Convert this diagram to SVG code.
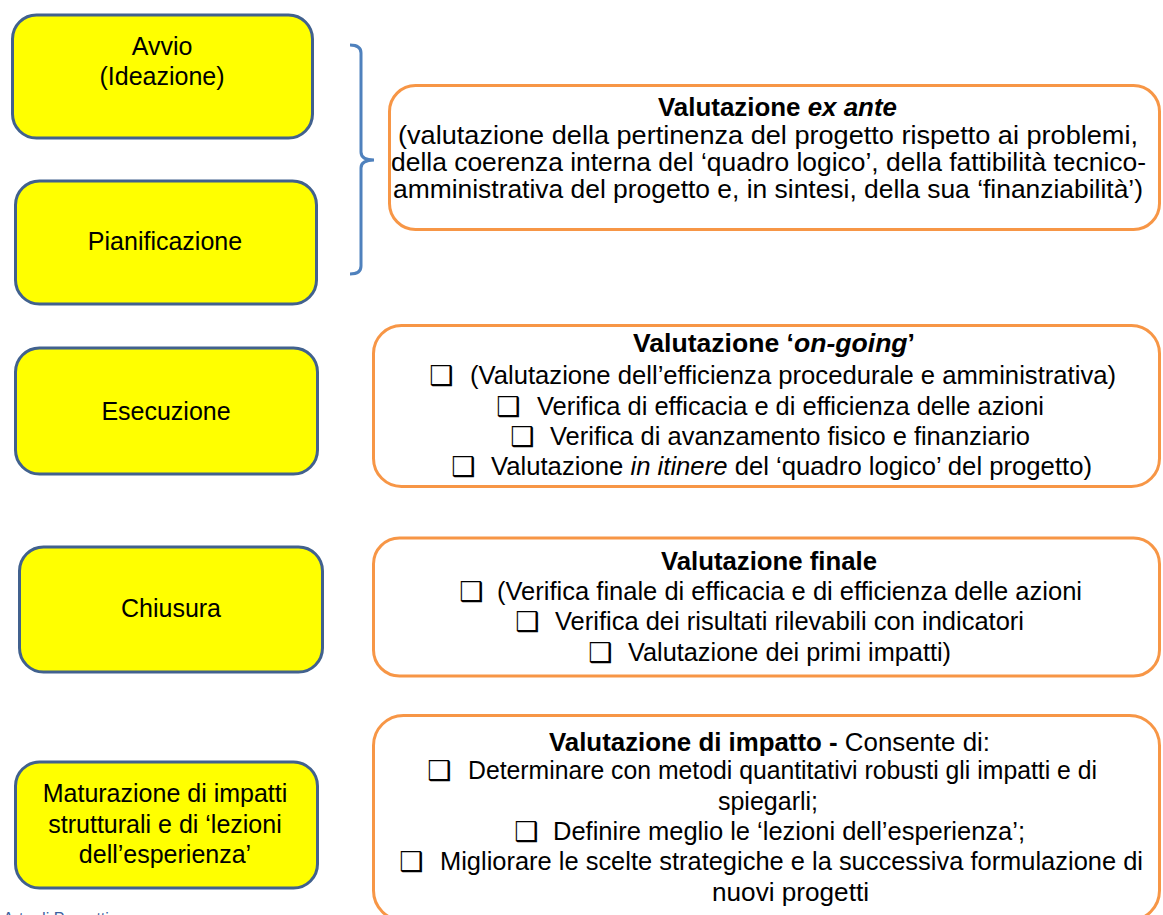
<svg xmlns="http://www.w3.org/2000/svg" width="1163" height="915" viewBox="0 0 1163 915">
<style>
.phase rect{fill:#FFFF00;stroke:#41618E;stroke-width:3}
.evalbox rect{fill:#FFFFFF;stroke:#F79646;stroke-width:3}
text{font-family:"Liberation Sans",Arial,"DejaVu Sans",sans-serif;fill:#000}
.pt{font-size:25px;text-anchor:middle}
.et{font-size:25px}
.c{text-anchor:middle}
.b{font-weight:bold}
.i{font-style:italic}
.cb{font-family:"DejaVu Sans",sans-serif;font-size:27px}
.brace{fill:none;stroke:#4F81BD;stroke-width:3}
</style>
<rect x="0" y="0" width="1163" height="915" fill="#FFFFFF"/>

<g id="connectors">
<path class="brace" d="M350,45 Q361,45 361,53 V152 Q361,160 374,160 Q361,160 361,168 V266 Q361,274 350,274"/>
</g>

<g id="avvio" class="phase">
<rect x="12.5" y="15" width="300" height="123" rx="24"/>
<text class="pt" x="162" y="55">Avvio</text>
<text class="pt" x="162" y="85">(Ideazione)</text>
</g>

<g id="pianificazione" class="phase">
<rect x="15.5" y="181" width="301" height="123" rx="24"/>
<text class="pt" x="165" y="250">Pianificazione</text>
</g>

<g id="esecuzione" class="phase">
<rect x="15.5" y="348" width="302" height="126" rx="24"/>
<text class="pt" x="166" y="420">Esecuzione</text>
</g>

<g id="chiusura" class="phase">
<rect x="19.5" y="547" width="303" height="125" rx="24"/>
<text class="pt" x="171" y="617">Chiusura</text>
</g>

<g id="maturazione" class="phase">
<rect x="15.5" y="762" width="302" height="126" rx="24"/>
<text class="pt" x="165" y="802">Maturazione di impatti</text>
<text class="pt" x="165" y="833">strutturali e di ‘lezioni</text>
<text class="pt" x="165" y="863">dell’esperienza’</text>
</g>

<g id="exante" class="evalbox">
<rect x="389.5" y="85.5" width="770" height="144" rx="26"/>
<text class="et b" x="658" y="116" textLength="239" lengthAdjust="spacingAndGlyphs">Valutazione <tspan class="i">ex ante</tspan></text>
<text class="et" x="398" y="144" textLength="740" lengthAdjust="spacingAndGlyphs">(valutazione della pertinenza del progetto rispetto ai problemi,</text>
<text class="et" x="391" y="171" textLength="755" lengthAdjust="spacingAndGlyphs">della coerenza interna del ‘quadro logico’, della fattibilità tecnico-</text>
<text class="et" x="393" y="198" textLength="750" lengthAdjust="spacingAndGlyphs">amministrativa del progetto e, in sintesi, della sua ‘finanziabilità’)</text>
</g>

<g id="ongoing" class="evalbox">
<rect x="373.5" y="325.5" width="786" height="161" rx="28"/>
<text class="et b" x="633" y="352" textLength="282" lengthAdjust="spacingAndGlyphs">Valutazione ‘<tspan class="i">on-going</tspan>’</text>
<text class="cb" x="429" y="385">❑</text>
<text class="et" x="470" y="384" textLength="646" lengthAdjust="spacingAndGlyphs">(Valutazione dell’efficienza procedurale e amministrativa)</text>
<text class="cb" x="496" y="416">❑</text>
<text class="et" x="537" y="415" textLength="507" lengthAdjust="spacingAndGlyphs">Verifica di efficacia e di efficienza delle azioni</text>
<text class="cb" x="510" y="446">❑</text>
<text class="et" x="550" y="445" textLength="480" lengthAdjust="spacingAndGlyphs">Verifica di avanzamento fisico e finanziario</text>
<text class="cb" x="451" y="476">❑</text>
<text class="et" x="491" y="475" textLength="601" lengthAdjust="spacingAndGlyphs">Valutazione <tspan class="i">in itinere</tspan> del ‘quadro logico’ del progetto)</text>
</g>

<g id="finale" class="evalbox">
<rect x="373.5" y="538" width="786" height="138" rx="26"/>
<text class="et b" x="661" y="570" textLength="216" lengthAdjust="spacingAndGlyphs">Valutazione finale</text>
<text class="cb" x="459" y="601">❑</text>
<text class="et" x="497" y="600" textLength="585" lengthAdjust="spacingAndGlyphs">(Verifica finale di efficacia e di efficienza delle azioni</text>
<text class="cb" x="515" y="631">❑</text>
<text class="et" x="555" y="630" textLength="469" lengthAdjust="spacingAndGlyphs">Verifica dei risultati rilevabili con indicatori</text>
<text class="cb" x="588" y="662">❑</text>
<text class="et" x="628" y="661" textLength="323" lengthAdjust="spacingAndGlyphs">Valutazione dei primi impatti)</text>
</g>

<g id="impatto" class="evalbox">
<rect x="373.5" y="715.5" width="786" height="205" rx="30"/>
<text class="et" x="549" y="751" textLength="441" lengthAdjust="spacingAndGlyphs"><tspan class="b">Valutazione  di impatto -</tspan> Consente di:</text>
<text class="cb" x="427" y="780">❑</text>
<text class="et" x="468" y="779" textLength="629" lengthAdjust="spacingAndGlyphs">Determinare con metodi quantitativi  robusti gli impatti e di</text>
<text class="et c" x="768" y="810">spiegarli;</text>
<text class="cb" x="514" y="841">❑</text>
<text class="et" x="553" y="840" textLength="472" lengthAdjust="spacingAndGlyphs">Definire meglio le ‘lezioni dell’esperienza’;</text>
<text class="cb" x="399" y="871">❑</text>
<text class="et" x="440" y="870" textLength="703" lengthAdjust="spacingAndGlyphs">Migliorare le scelte strategiche e la successiva formulazione di</text>
<text class="et" x="712" y="901" textLength="157" lengthAdjust="spacingAndGlyphs">nuovi progetti</text>
</g>

<text x="3" y="924" style="font-size:16px;fill:#3B5FA0">Arte di Progetti</text>
</svg>
